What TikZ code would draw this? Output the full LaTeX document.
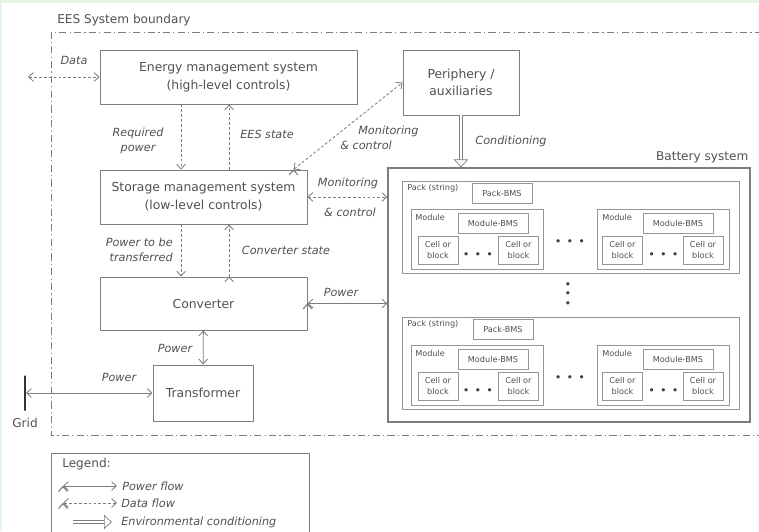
\documentclass[tikz,border=0pt]{standalone}
\usepackage{fontspec}
\setmainfont{DejaVu Sans}
\usetikzlibrary{arrows.meta,positioning}

\definecolor{linegray}{RGB}{125,125,125}
\definecolor{boxgray}{RGB}{150,150,150}
\definecolor{textgray}{RGB}{80,80,80}
\definecolor{framegreen}{RGB}{226,246,226}

\newcommand{\dotsrow}{\textbullet\hspace{3.6pt}\textbullet\hspace{3.6pt}\textbullet}

\tikzset{
  block/.style={draw=linegray, line width=0.7pt, text=textgray, align=center,
    inner sep=1pt, font=\fontsize{8.8}{12.5}\selectfont},
  smallbox/.style={draw=boxgray, line width=0.7pt, text=textgray, align=center,
    inner sep=0pt, font=\fontsize{5.8}{8.4}\selectfont},
  packbox/.style={smallbox, minimum width=84.25mm, minimum height=23mm},
  modbox/.style={smallbox, minimum width=33mm, minimum height=15mm},
  pbmsbox/.style={smallbox, minimum width=15mm, minimum height=5mm},
  mbmsbox/.style={smallbox, minimum width=17.5mm, minimum height=5mm},
  cellbox/.style={smallbox, minimum width=10mm, minimum height=7mm},
  tag/.style={text=textgray, inner sep=0pt, font=\fontsize{5.8}{7}\selectfont},
  flowlabel/.style={text=textgray, inner sep=0pt, font=\fontsize{8}{10.8}\selectfont\itshape},
  plainlabel/.style={text=textgray, inner sep=0pt, font=\fontsize{8.6}{10}\selectfont},
  dotrow/.style={text=black!75, inner sep=0pt, align=center, font=\fontsize{8}{6.8}\selectfont},
  powerflow/.style={draw=linegray, line width=0.6pt},
  dataflow/.style={draw=linegray, line width=0.6pt, dash pattern=on 2pt off 1.5pt},
  condflow/.style={draw=linegray, line width=0.5pt, double=white, double distance=1.8pt,
    -{Triangle[open, length=2mm, width=3.6mm]}},
  tipboth/.style={{Straight Barb[length=1.2mm,width=2.2mm]}-{Straight Barb[length=1.2mm,width=2.2mm]}},
  tipend/.style={-{Straight Barb[length=1.2mm,width=2.2mm]}}
}

\begin{document}
\begin{tikzpicture}[x=0.25mm, y=-0.25mm]
        \useasboundingbox (0,0) rectangle (759,531);
        \fill [framegreen] (0,0) rectangle (759,3);
        \fill [framegreen] (0,0) rectangle (2,531);

        % system boundary
        \draw [linegray, line width=0.6pt, dash pattern=on 1.8mm off 0.8mm on 0.3mm off 0.8mm]
              (762,32) -| (51,435) -- (762,435);
        \node (boundlbl) [plainlabel, anchor=west] at (57,20) {EES System boundary};

        % control and power chain
        \node (ems) [block, minimum width=64.25mm, minimum height=13.5mm] at (228.5,77)
              {Energy management system\\(high-level controls)};
        \node (peri) [block, minimum width=29mm, minimum height=16.25mm] at (461,82.5)
              {Periphery /\\auxiliaries};
        \node (sms) [block, minimum width=51.75mm, minimum height=13.5mm] at (203.5,197)
              {Storage management system\\(low-level controls)};
        \node (conv) [block, minimum width=51.75mm, minimum height=13.25mm] at (203.5,303.5) {Converter};
        \node (trafo) [block, minimum width=25mm, minimum height=14mm] at (203,393) {Transformer};
        \node (grid) [draw=black!80, line width=1.4pt, inner sep=0pt, minimum width=0pt,
              minimum height=8.75mm] at (25,393) {};
        \node (gridlbl) [plainlabel] at (25,423) {Grid};
        \coordinate (datafree) at (28,77);

        % battery system
        \node (bat) [draw=linegray, line width=0.9pt, minimum width=90.5mm, minimum height=63.5mm]
              at (569,295) {};
        \node (batlbl) [plainlabel, anchor=south east] at ([shift={(-0.5mm,1mm)}]bat.north east) {Battery system};

        \node (pack1) [packbox] at (570.5,227) {};
        \node (pack1tag) [tag, anchor=west] at (407,188) {Pack (string)};
        \node (pbms1) [pbmsbox] at (502,193) {Pack-BMS};
        \node (mod1) [modbox] at (477,239) {};
        \node (mod1tag) [tag, anchor=west] at (415,217) {Module};
        \node (mbms1) [mbmsbox] at (493,223.5) {Module-BMS};
        \node (cell1a) [cellbox] at (438,250) {Cell or\\block};
        \node (cell1b) [cellbox] at (518.5,250) {Cell or\\block};
        \node (dots1) [dotrow] at (478,256) {\dotsrow};
        \node (mod2) [modbox] at (663.5,239) {};
        \node (mod2tag) [tag, anchor=west] at (602,217) {Module};
        \node (mbms2) [mbmsbox] at (678,223.5) {Module-BMS};
        \node (cell2a) [cellbox] at (622.5,250) {Cell or\\block};
        \node (cell2b) [cellbox] at (703,250) {Cell or\\block};
        \node (dots2) [dotrow] at (663.5,256) {\dotsrow};
        \node (middots1) [dotrow] at (570,243) {\dotsrow};

        \node (vdots) [dotrow] at (568,295) {\textbullet\\\textbullet\\\textbullet};

        \node (pack2) [packbox] at (570.5,363) {};
        \node (pack2tag) [tag, anchor=west] at (407,324) {Pack (string)};
        \node (pbms2) [pbmsbox] at (503,329) {Pack-BMS};
        \node (mod3) [modbox] at (477,375) {};
        \node (mod3tag) [tag, anchor=west] at (415,353) {Module};
        \node (mbms3) [mbmsbox] at (493,359.5) {Module-BMS};
        \node (cell3a) [cellbox] at (438,386) {Cell or\\block};
        \node (cell3b) [cellbox] at (518.5,386) {Cell or\\block};
        \node (dots3) [dotrow] at (478,392) {\dotsrow};
        \node (mod4) [modbox] at (663.5,375) {};
        \node (mod4tag) [tag, anchor=west] at (602,353) {Module};
        \node (mbms4) [mbmsbox] at (678,359.5) {Module-BMS};
        \node (cell4a) [cellbox] at (622.5,386) {Cell or\\block};
        \node (cell4b) [cellbox] at (703,386) {Cell or\\block};
        \node (dots4) [dotrow] at (663.5,392) {\dotsrow};
        \node (middots2) [dotrow] at (570,379) {\dotsrow};

        % flows
        \path [powerflow, tipboth] (conv) edge (trafo)
                  (grid) edge (trafo)
                  (conv.east) edge (conv.east -| bat.west);
        \path [dataflow, tipboth] (datafree) edge (ems)
                  (sms.east) edge (sms.east -| bat.west)
                  ([xshift=-3.5mm]sms.north east) edge (peri.west);
        \path [dataflow, tipend] ([xshift=-5.6mm]sms.north |- ems.south) edge ([xshift=-5.6mm]sms.north)
                  ([xshift=6.4mm]sms.north) edge ([xshift=6.4mm]sms.north |- ems.south)
                  ([xshift=-5.6mm]sms.south) edge ([xshift=-5.6mm]conv.north)
                  ([xshift=6.4mm]conv.north) edge ([xshift=6.4mm]sms.south);
        \draw [condflow] (peri.south) -- (peri.south |- bat.north);

        % flow labels
        \node (lbldata) [flowlabel] at (74,60) {Data};
        \node (lblreq) [flowlabel, align=center] at (138,141) {Required\\power};
        \node (lblees) [flowlabel] at (267,134) {EES state};
        \node (lblmondiag) [flowlabel, align=left, anchor=west] at (340,138)
              {\hspace*{4.5mm}Monitoring\\\& control};
        \node (lblmonA) [flowlabel] at (348,183) {Monitoring};
        \node (lblmonB) [flowlabel] at (350,212) {\& control};
        \node (lblptb) [flowlabel, align=right, anchor=east] at (173,250) {Power to be\\transferred};
        \node (lblcst) [flowlabel] at (286,250) {Converter state};
        \node (lblpwbat) [flowlabel] at (341,292) {Power};
        \node (lblpwtr) [flowlabel] at (175,348) {Power};
        \node (lblpwgrid) [flowlabel] at (119,377) {Power};
        \node (lblcond) [flowlabel] at (511,141) {Conditioning};

        % legend
        \node (legend) [draw=linegray, line width=0.7pt, anchor=north west, minimum width=64.5mm,
              minimum height=25mm] at (51,453) {};
        \node (legendttl) [plainlabel, anchor=west] at (62,464) {Legend:};
        \coordinate (pwA) at (63,486);
        \coordinate (pwB) at (117,486);
        \coordinate (dtA) at (63,503);
        \coordinate (dtB) at (117,503);
        \coordinate (cdA) at (73,522);
        \coordinate (cdB) at (112,522);
        \path [powerflow, tipboth] (pwA) edge (pwB);
        \path [dataflow, tipboth] (dtA) edge (dtB);
        \draw [condflow] (cdA) -- (cdB);
        \node (lgpw) [flowlabel, anchor=west] at (122,486) {Power flow};
        \node (lgdt) [flowlabel, anchor=west] at (121,503) {Data flow};
        \node (lgcd) [flowlabel, anchor=west] at (121,522) {Environmental conditioning};
\end{tikzpicture}
\end{document}
